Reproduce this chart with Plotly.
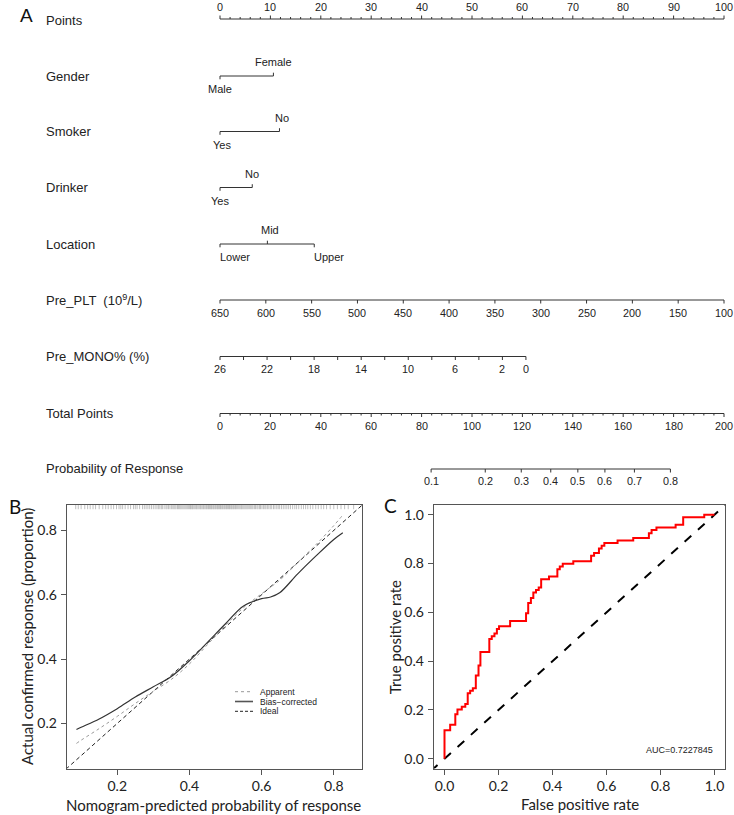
import numpy as np
import plotly.graph_objects as go

W, H = 734, 815
NOM_FONT = "Liberation Sans, Arial, sans-serif"
PAN_FONT = "Lato, sans-serif"
TXT = "#222222"

# ---------------- Nomogram data (panel A) ----------------
points_major = list(range(0, 101, 10))
points_minor = list(range(0, 101, 2))
gender_levels = ["Male", "Female"]
gender_pts = [0.0, 10.6]
smoker_levels = ["Yes", "No"]
smoker_pts = [0.0, 11.8]
drinker_levels = ["Yes", "No"]
drinker_pts = [0.0, 6.4]
location_levels = ["Lower", "Mid", "Upper"]
location_pts = [0.0, 9.4, 18.7]
plt_ticks = [650, 600, 550, 500, 450, 400, 350, 300, 250, 200, 150, 100]
plt_at_0pts, plt_at_100pts = 650, 100
mono_ticks = [26, 24, 22, 20, 18, 16, 14, 12, 10, 8, 6, 4, 2, 0]
mono_labels = [26, 22, 18, 14, 10, 6, 2, 0]
mono_max_value, mono_max_pts = 26, 60.7
total_major = list(range(0, 201, 20))
total_minor = list(range(0, 201, 4))
prob_ticks = [0.1, 0.2, 0.3, 0.4, 0.5, 0.6, 0.7, 0.8]
prob_total_at_half = 142.0   # total points where P = 0.5
prob_total_per_logit = 26.5  # total points per logit unit

# ---------------- Calibration data (panel B) ----------------
cal_pred = [0.087, 0.10, 0.15, 0.20, 0.25, 0.30, 0.35, 0.40, 0.45, 0.50,
            0.55, 0.60, 0.625, 0.65, 0.70, 0.75, 0.80, 0.825]
cal_bias_corrected = [0.181, 0.188, 0.214, 0.246, 0.282, 0.314, 0.346, 0.395, 0.452, 0.510,
                      0.565, 0.588, 0.593, 0.606, 0.665, 0.720, 0.772, 0.793]
cal_apparent = [0.138, 0.148, 0.184, 0.222, 0.262, 0.300, 0.337, 0.385, 0.445, 0.505,
                0.560, 0.603, 0.624, 0.645, 0.700, 0.755, 0.815, 0.848]
rug_pred = [0.085, 0.092, 0.10, 0.11, 0.118, 0.125, 0.133, 0.14, 0.15, 0.16, 0.168, 0.175,
            0.183, 0.19, 0.198, 0.205, 0.21, 0.215, 0.222, 0.23, 0.237, 0.245, 0.25,
            0.255, 0.262, 0.27, 0.275, 0.28, 0.285, 0.29, 0.295, 0.30, 0.305, 0.31, 0.314,
            0.318, 0.322, 0.325, 0.33, 0.335, 0.338, 0.342, 0.346, 0.35, 0.354, 0.357,
            0.36, 0.363, 0.367, 0.37, 0.373, 0.376, 0.379, 0.382, 0.385, 0.388, 0.391,
            0.394, 0.397, 0.40, 0.403, 0.405, 0.408, 0.41, 0.413, 0.416, 0.419, 0.421,
            0.424, 0.427, 0.43, 0.432, 0.435, 0.438, 0.44, 0.443, 0.446, 0.448, 0.451,
            0.453, 0.456, 0.458, 0.461, 0.463, 0.466, 0.468, 0.471, 0.473, 0.476, 0.478,
            0.481, 0.483, 0.486, 0.488, 0.491, 0.493, 0.496, 0.498, 0.501, 0.503, 0.506,
            0.508, 0.511, 0.513, 0.516, 0.518, 0.521, 0.523, 0.526, 0.528, 0.531, 0.534,
            0.537, 0.54, 0.543, 0.545, 0.548, 0.551, 0.554, 0.557, 0.56, 0.563, 0.567,
            0.57, 0.573, 0.576, 0.58, 0.583, 0.587, 0.59, 0.594, 0.597, 0.601, 0.605,
            0.609, 0.612, 0.616, 0.62, 0.624, 0.628, 0.633, 0.637, 0.642, 0.646, 0.65,
            0.655, 0.66, 0.665, 0.67, 0.675, 0.68, 0.686, 0.692, 0.697, 0.703, 0.71,
            0.716, 0.722, 0.728, 0.735, 0.742, 0.75, 0.757, 0.765, 0.772, 0.78, 0.79,
            0.80, 0.81, 0.82, 0.83, 0.84, 0.855]
cal_range = [0.06, 0.879]

# ---------------- ROC data (panel C) ----------------
roc_fpr = [0, 0, 0.021, 0.04, 0.048, 0.064, 0.077, 0.086, 0.095, 0.105,
           0.116, 0.126, 0.133, 0.166, 0.175, 0.185, 0.194, 0.202, 0.243, 0.302,
           0.31, 0.32, 0.329, 0.339, 0.349, 0.358, 0.387, 0.418, 0.427, 0.438,
           0.477, 0.543, 0.554, 0.572, 0.582, 0.592, 0.641, 0.699, 0.757, 0.767,
           0.785, 0.856, 0.884, 0.962, 1.0]
roc_tpr = [0, 0.117, 0.139, 0.182, 0.202, 0.213, 0.224, 0.268, 0.279, 0.289,
           0.341, 0.382, 0.437, 0.491, 0.502, 0.513, 0.532, 0.543, 0.565, 0.596,
           0.638, 0.659, 0.681, 0.692, 0.702, 0.736, 0.747, 0.777, 0.788, 0.799,
           0.809, 0.832, 0.843, 0.862, 0.873, 0.884, 0.894, 0.905, 0.924, 0.938,
           0.948, 0.959, 0.99, 1.0, 1.0]
auc_text = "AUC=0.7227845"

fig = go.Figure()
annotations = []
shapes = []

# ================= Panel A: nomogram =================
PX_PER_PT = 5.04
X0_PX = 220.0
NOM_H = 500
xs, ys = [], []


def seg(x0, y0, x1, y1):
    xs.extend([x0, x1, None])
    ys.extend([y0, y1, None])


def lab(x, y, text, size=10.8, xanchor="center", xshift=0):
    annotations.append(dict(x=x, y=y, xref="x3", yref="y3", text=text, showarrow=False,
                            font=dict(size=size, color=TXT, family=NOM_FONT),
                            xanchor=xanchor, yanchor="middle", xshift=xshift))


def varname(y, text):
    annotations.append(dict(x=44 / W, y=y, xref="paper", yref="y3", text=text, showarrow=False,
                            font=dict(size=13, color=TXT, family=NOM_FONT),
                            xanchor="left", yanchor="middle"))


rows = {"Points": 19, "Gender": 76, "Smoker": 131.5, "Drinker": 187.5, "Location": 244,
        "PLT": 300, "MONO": 356.5, "Total": 413.5, "Prob": 469}

# Points
y = rows["Points"]
seg(0, y, 100, y)
for m in points_minor:
    if m % 10:
        seg(m, y, m, y - 2)
for t in points_major:
    seg(t, y, t, y - 3.5)
    lab(t, y - 12, str(t))
varname(y + 1, "Points")


def cat_row(levels, pts, y, name, anchors=None, shifts=None):
    seg(min(pts), y, max(pts), y)
    for i, (lv, p) in enumerate(zip(levels, pts)):
        d = 1 if i % 2 == 0 else -1
        seg(p, y, p, y + d * 3.3)
        ya = y + 13 if d > 0 else y - 14
        anc = anchors[i] if anchors else "center"
        sh = shifts[i] if shifts else 0
        lab(p, ya, lv, size=11, xanchor=anc, xshift=sh)
    varname(y, name)


cat_row(gender_levels, gender_pts, rows["Gender"], "Gender")
cat_row(smoker_levels, smoker_pts, rows["Smoker"], "Smoker", shifts=[2, 3])
cat_row(drinker_levels, drinker_pts, rows["Drinker"], "Drinker")
cat_row(location_levels, location_pts, rows["Location"], "Location",
        anchors=["left", "center", "left"], shifts=[-2, 3, -2])

# Pre_PLT
y = rows["PLT"]
plt_pts = [(plt_at_0pts - v) / (plt_at_0pts - plt_at_100pts) * 100 for v in plt_ticks]
seg(min(plt_pts), y, max(plt_pts), y)
for v, p in zip(plt_ticks, plt_pts):
    seg(p, y, p, y + 3.5)
    lab(p, y + 12.7, str(v))
varname(y, "Pre_PLT  (10<sup>9</sup>/L)")

# Pre_MONO%
y = rows["MONO"]
mono_pts = [(mono_max_value - v) / mono_max_value * mono_max_pts for v in mono_ticks]
seg(min(mono_pts), y, max(mono_pts), y)
for v, p in zip(mono_ticks, mono_pts):
    seg(p, y, p, y + 3.5)
    if v in mono_labels:
        lab(p, y + 12.7, str(v))
varname(y, "Pre_MONO% (%)")

# Total points (drawn on half scale: 200 total = 100 points width)
y = rows["Total"]
seg(0, y, 100, y)
for m in total_minor:
    if m % 20:
        seg(m / 2, y, m / 2, y + 2)
for t in total_major:
    seg(t / 2, y, t / 2, y + 3.5)
    lab(t / 2, y + 12, str(t))
varname(y, "Total Points")

# Probability of response
y = rows["Prob"]
prob_pts = [(prob_total_at_half + prob_total_per_logit * np.log(p / (1 - p))) / 2 for p in prob_ticks]
seg(min(prob_pts), y, max(prob_pts), y)
for v, p in zip(prob_ticks, prob_pts):
    seg(p, y, p, y + 3.5)
    lab(p, y + 12, f"{v:.1f}")
varname(y - 1, "Probability of Response")

fig.add_trace(go.Scatter(x=xs, y=ys, mode="lines", xaxis="x3", yaxis="y3",
                         line=dict(color="#333333", width=1), hoverinfo="skip", showlegend=False))

annotations.append(dict(x=18 / W, y=1 - 15 / H, xref="paper", yref="paper", text="A",
                        showarrow=False, xanchor="left", yanchor="middle",
                        font=dict(size=19, color="#111", family=NOM_FONT)))

# ================= Panel B: calibration =================
fig.add_trace(go.Scatter(x=rug_pred, y=[cal_range[1] - 0.0055] * len(rug_pred), mode="markers",
                         xaxis="x", yaxis="y",
                         marker=dict(symbol="line-ns", size=3.5, line=dict(color="#b0b0b0", width=0.8)),
                         hoverinfo="skip", showlegend=False))
fig.add_trace(go.Scatter(x=[0, 1], y=[0, 1], mode="lines", xaxis="x", yaxis="y",
                         line=dict(color="#222222", width=1, dash="4px,3px"), showlegend=False))
fig.add_trace(go.Scatter(x=cal_pred, y=cal_apparent, mode="lines", xaxis="x", yaxis="y",
                         line=dict(color="#999999", width=1, dash="dot", shape="spline"),
                         showlegend=False))
fig.add_trace(go.Scatter(x=cal_pred, y=cal_bias_corrected, mode="lines", xaxis="x", yaxis="y",
                         line=dict(color="#333333", width=1.2, shape="spline"), showlegend=False))

# legend (panel B)
leg_items = [("Apparent", "#999999", "dot", 1), ("Bias\u2212corrected", "#555555", "solid", 1.6),
             ("Ideal", "#222222", "3px,2px", 1)]
for i, (name, col, dsh, wd) in enumerate(leg_items):
    ypx = 691.7 + i * 9.8
    shapes.append(dict(type="line", xref="paper", yref="paper", x0=235 / W, x1=253 / W,
                       y0=1 - ypx / H, y1=1 - ypx / H, line=dict(color=col, width=wd, dash=dsh)))
    annotations.append(dict(x=258 / W, y=1 - ypx / H, xref="paper", yref="paper", text=name,
                            showarrow=False, xanchor="left", yanchor="middle",
                            font=dict(size=8.5, color=TXT, family=NOM_FONT)))

annotations.append(dict(x=7 / W, y=1 - 506.5 / H, xref="paper", yref="paper", text="B",
                        showarrow=False, xanchor="left", yanchor="middle",
                        font=dict(size=19, color="#111", family=PAN_FONT)))
annotations.append(dict(x=214 / W, y=1 - 805 / H, xref="paper", yref="paper",
                        text="Nomogram-predicted probability of response", showarrow=False,
                        xanchor="center", yanchor="middle",
                        font=dict(size=15, color=TXT, family=PAN_FONT)))
annotations.append(dict(x=27 / W, y=1 - 637 / H, xref="paper", yref="paper",
                        text="Actual confirmed response (proportion)", showarrow=False,
                        textangle=-90, xanchor="center", yanchor="middle",
                        font=dict(size=15, color=TXT, family=PAN_FONT)))

# ================= Panel C: ROC =================
fig.add_trace(go.Scatter(x=[-0.1, 1.1], y=[-0.1, 1.1], mode="lines", xaxis="x2", yaxis="y2",
                         line=dict(color="#000000", width=2, dash="dash"), showlegend=False))
fig.add_trace(go.Scatter(x=roc_fpr, y=roc_tpr, mode="lines", xaxis="x2", yaxis="y2",
                         line=dict(color="#ff0000", width=2, shape="hv"), showlegend=False))
annotations.append(dict(x=1.0, y=0.037, xref="x2", yref="y2", text=auc_text, showarrow=False,
                        xanchor="right", yanchor="middle",
                        font=dict(size=9, color=TXT, family=NOM_FONT)))
annotations.append(dict(x=382 / W, y=1 - 505.5 / H, xref="paper", yref="paper", text="C",
                        showarrow=False, xanchor="left", yanchor="middle",
                        font=dict(size=19, color="#111", family=PAN_FONT)))
annotations.append(dict(x=579.5 / W, y=1 - 804 / H, xref="paper", yref="paper",
                        text="False positive rate", showarrow=False,
                        xanchor="center", yanchor="middle",
                        font=dict(size=15, color=TXT, family=PAN_FONT)))
annotations.append(dict(x=395.3 / W, y=1 - 637 / H, xref="paper", yref="paper",
                        text="True positive rate", showarrow=False, textangle=-90,
                        xanchor="center", yanchor="middle",
                        font=dict(size=15, color=TXT, family=PAN_FONT)))

# ================= Layout =================
ax_common = dict(showline=True, mirror=True, linecolor="#555555", linewidth=1,
                 ticks="outside", ticklen=5, tickcolor="#555555", tickwidth=1,
                 showgrid=False, zeroline=False, tickformat=".1f",
                 tickfont=dict(family=PAN_FONT, size=14, color=TXT))
yB = [1 - 768.5 / H, 1 - 505 / H]
fig.update_layout(
    width=W, height=H, margin=dict(l=0, r=0, t=0, b=0),
    paper_bgcolor="white", plot_bgcolor="white", showlegend=False,
    xaxis=dict(domain=[66.7 / W, 362.3 / W], range=cal_range, tickmode="array",
               tickvals=[0.2, 0.4, 0.6, 0.8], anchor="y", ticklabelstandoff=0, **ax_common),
    yaxis=dict(domain=yB, range=cal_range, tickmode="array",
               tickvals=[0.2, 0.4, 0.6, 0.8], anchor="x", ticklabelstandoff=1, **ax_common),
    xaxis2=dict(domain=[433.7 / W, 725.3 / W], range=[-0.04, 1.04], tickmode="array",
                tickvals=[0, 0.2, 0.4, 0.6, 0.8, 1.0], anchor="y2", ticklabelstandoff=0,
                **ax_common),
    yaxis2=dict(domain=yB, range=[-0.04, 1.04], tickmode="array",
                tickvals=[0, 0.2, 0.4, 0.6, 0.8, 1.0], anchor="x2", ticklabelstandoff=1,
                **ax_common),
    xaxis3=dict(domain=[0, 1], range=[-X0_PX / PX_PER_PT, (W - X0_PX) / PX_PER_PT],
                visible=False, anchor="y3"),
    yaxis3=dict(domain=[1 - NOM_H / H, 1], range=[NOM_H, 0], visible=False, anchor="x3"),
    annotations=annotations, shapes=shapes,
)

fig.write_html("out.html", config={"displayModeBar": False},
               post_script="document.body.style.margin='0';document.body.style.overflow='hidden';")
